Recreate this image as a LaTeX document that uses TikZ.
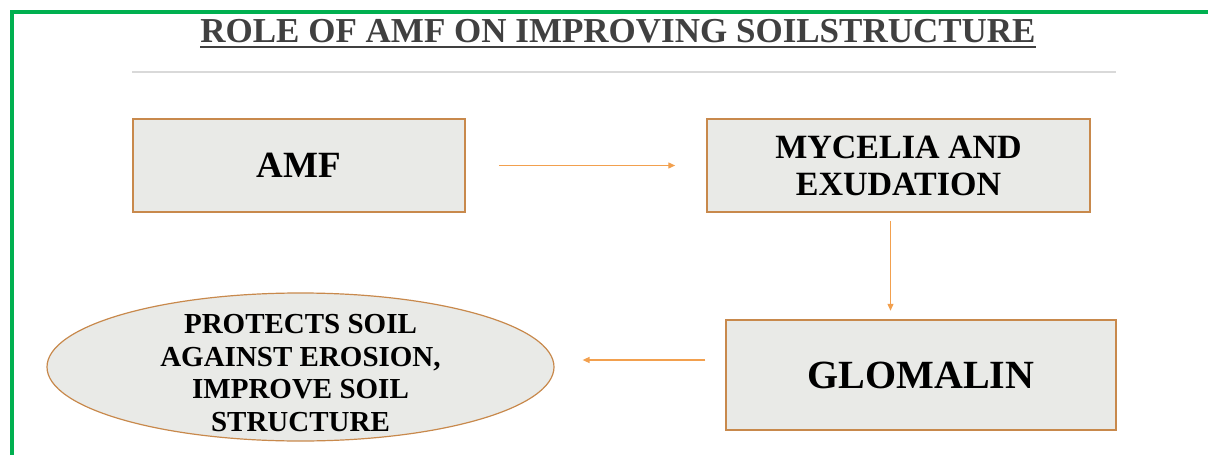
\documentclass[tikz,border=0pt]{standalone}
\usepackage{fontspec}
\setmainfont{Liberation Serif}
\usetikzlibrary{shapes.geometric,arrows.meta,calc}
\definecolor{frame}{HTML}{00B050}
\definecolor{boxfill}{HTML}{E9EAE7}
\definecolor{boxline}{HTML}{C8894C}
\definecolor{arrowc}{HTML}{F2A04E}
\definecolor{titlec}{HTML}{404040}
\tikzset{
  box/.style={draw=boxline, line width=1.5pt, fill=boxfill, inner sep=0pt, align=center, font=\bfseries},
  oval/.style={ellipse, draw=boxline, line width=1.2pt, fill=boxfill, inner xsep=0pt, inner ysep=-24pt, align=center, font=\bfseries},
  flow/.style={draw=arrowc, line width=1.3pt, -{Triangle[length=7pt,width=6pt]}},
}
\begin{document}
\begin{tikzpicture}[x=1pt,y=-1pt]
\useasboundingbox (0,0) rectangle (1208,455);
\draw[frame, line width=3.2pt] (12,455) -- (12,12) -- (1208,12);
\node[anchor=base, text=titlec, font=\fontsize{35}{40}\selectfont\bfseries, inner sep=0pt] (title) at (618,42) {ROLE OF AMF ON IMPROVING SOILSTRUCTURE};
\draw[titlec, line width=2pt] ($(title.base west)+(0,5)$) -- ($(title.base east)+(0,5)$);
\draw[black!15, line width=1.2pt] (132,72) -- (1116,72);
\node[box, minimum width=332pt, minimum height=93pt, font=\fontsize{37}{40}\selectfont\bfseries] (amf) at (299,165.5) {AMF};
\node[box, minimum width=383pt, minimum height=93pt, font=\fontsize{34}{37}\selectfont\bfseries] (myc) at (898.5,165.5) {MYCELIA AND\\EXUDATION};
\node[box, minimum width=390pt, minimum height=110pt, font=\fontsize{40}{44}\selectfont\bfseries] (glo) at (921,375) {GLOMALIN};
\node[oval, minimum width=507pt, minimum height=148pt, font=\fontsize{29}{32.5}\selectfont\bfseries] (prot) at (300.5,367) {\rule{0pt}{31pt}PROTECTS SOIL\\AGAINST EROSION,\\IMPROVE SOIL\\STRUCTURE};
\draw[flow] ($(amf.east)+(33,0)$) -- ($(myc.west)+(-31,0)$);
\draw[flow] ($(myc.south)+(-8,8)$) -- ($(myc.south)+(-8,98)$);
\draw[flow] ($(glo.west)+(-20,-15)$) -- ($(prot.east)+(28,-7)$);
\end{tikzpicture}
\end{document}
